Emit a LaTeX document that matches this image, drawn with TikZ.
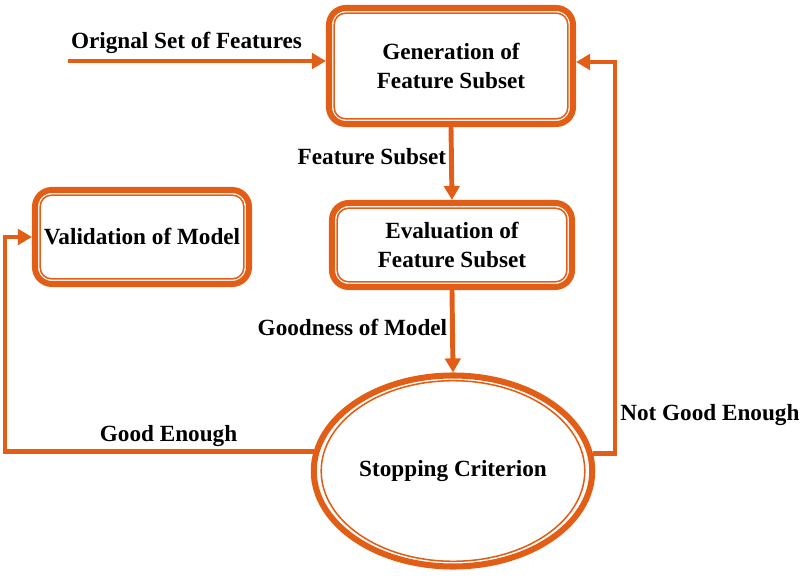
\documentclass[tikz,border=0pt]{standalone}
\usepackage{fontspec}
\setmainfont{Liberation Serif}
\definecolor{flowor}{RGB}{226,94,22}
\usetikzlibrary{arrows.meta,positioning,shapes.geometric,calc}
\tikzset{
  fsbox/.style={draw=flowor, line width=4.3pt, fill=white, rounded corners=12pt, align=center,
    font=\fontsize{16.5}{20}\selectfont\bfseries,
    path picture={\draw[flowor, line width=1.1pt, rounded corners=8pt]
      ([shift={(0.13,-0.13)}]path picture bounding box.north west) rectangle
      ([shift={(-0.13,0.13)}]path picture bounding box.south east);}},
  fsell/.style={ellipse, draw=flowor, line width=4.3pt, fill=white, align=center,
    font=\fontsize{16.5}{20}\selectfont\bfseries,
    path picture={\draw[flowor, line width=1.1pt]
      (path picture bounding box.center) ellipse [x radius=3.295cm, y radius=2.2575cm];}},
  fslbl/.style={font=\fontsize{16.5}{20}\selectfont\bfseries, inner sep=2pt},
  flow/.style={draw=flowor, line width=3.5pt, -{Triangle[length=10pt,width=11pt]}}
}
\begin{document}
\begin{tikzpicture}
  \useasboundingbox (0,0) rectangle (20.175,14.625);
  % Generation box
  \node[fsbox, minimum width=6.1cm, minimum height=2.9cm] (gen) at (11.275,12.975) {Generation of\\Feature Subset};
  % Evaluation box
  \node[fsbox, minimum width=6.0cm, minimum height=2.1cm] (eval) at (11.3,8.5) {Evaluation of\\Feature Subset};
  % Validation box
  \node[fsbox, minimum width=5.35cm, minimum height=2.35cm] (val) at (3.55,8.7) {Validation of Model};
  % Stopping criterion
  \node[fsell, minimum width=6.85cm, minimum height=4.775cm] (stop) at (11.325,2.85) {Stopping Criterion};
  % Input
  \coordinate (in) at (1.7,13.1);
  \node[fslbl, anchor=south west] (inlbl) at ([yshift=3pt]in) {Orignal Set of Features};
  % Arrows
  \draw[flow] (in) -- (in -| gen.west);
  \draw[flow] (gen.south) -- node[fslbl, left, pos=0.4] (sublbl) {Feature Subset} (eval.north);
  \draw[flow] (eval.south) -- node[fslbl, left, pos=0.45] (modlbl) {Goodness of Model} (stop.north);
  \draw[flow] (stop.172) -| ([xshift=-0.675cm]val.west) node[fslbl, pos=0.235, above] (goodlbl) {Good Enough} -- (val.west);
  \draw[flow] (stop.7) -| ([xshift=0.975cm, yshift=0.1cm]gen.east) node[fslbl, pos=0.55, right] (notlbl) {Not Good Enough} -- ([yshift=0.1cm]gen.east);
\end{tikzpicture}
\end{document}
